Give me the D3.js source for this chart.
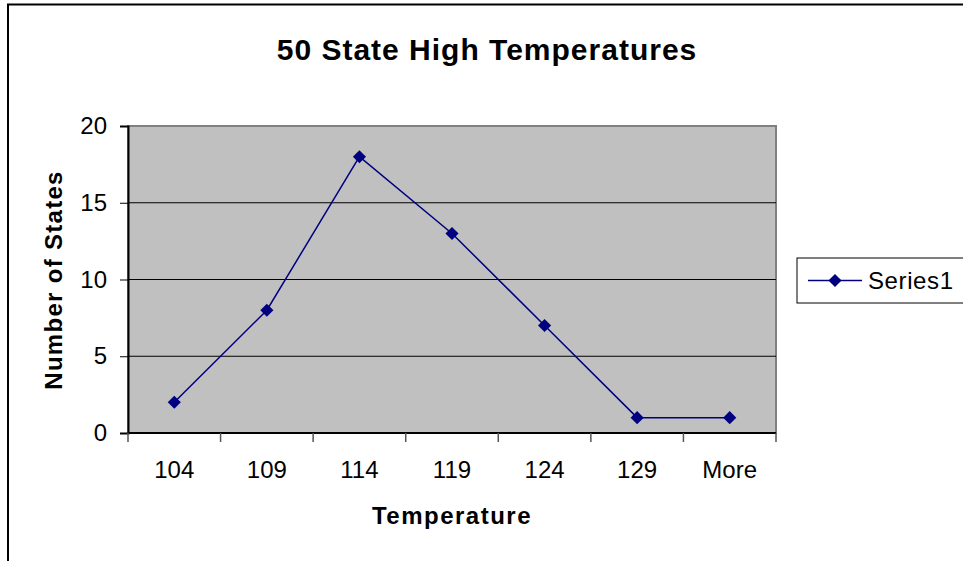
<!DOCTYPE html>
<html>
<head>
<meta charset="utf-8">
<script src="https://cdn.jsdelivr.net/npm/d3@7"></script>
<style>
  body { margin: 0; background: #fff; }
  svg { display: block; font-family: Arial, "Liberation Sans", sans-serif; }
</style>
</head>
<body>
<svg id="chart" width="963" height="561"></svg>
<script>
// chart data
var categories = ['104', '109', '114', '119', '124', '129', 'More'];
var counts = [2, 8, 18, 13, 7, 1, 1];
var yTicks = [0, 5, 10, 15, 20];
var seriesName = 'Series1';

var svg = d3.select('#chart');
var plot = { left: 128, top: 126, right: 776, bottom: 433 };

// outer chart frame (runs off right/bottom edge)
svg.append('rect')
  .attr('x', 8).attr('y', 4.5)
  .attr('width', 1000).attr('height', 1000)
  .attr('fill', '#fff')
  .attr('stroke', '#000')
  .attr('stroke-width', 2);

var x = d3.scaleBand()
  .domain(categories)
  .range([plot.left, plot.right]);

var y = d3.scaleLinear()
  .domain([0, 20])
  .range([plot.bottom, plot.top]);

// plot background
svg.append('rect')
  .attr('x', plot.left).attr('y', plot.top)
  .attr('width', plot.right - plot.left)
  .attr('height', plot.bottom - plot.top)
  .attr('fill', '#c0c0c0')
  .attr('stroke', '#808080')
  .attr('stroke-width', 2);

// gridlines
svg.append('g')
  .selectAll('line')
  .data(yTicks.filter(function(d) { return d > 0 && d < 20; }))
  .join('line')
  .attr('x1', plot.left).attr('x2', plot.right)
  .attr('y1', function(d) { return y(d); })
  .attr('y2', function(d) { return y(d); })
  .attr('stroke', '#000')
  .attr('stroke-width', 1);

// y axis
var yAxis = svg.append('g')
  .attr('transform', 'translate(' + plot.left + ',0)')
  .call(d3.axisLeft(y).tickValues(yTicks).tickSize(8).tickPadding(13));
yAxis.select('.domain').attr('stroke', '#000').attr('stroke-width', 2);
yAxis.selectAll('text').attr('font-size', 24).attr('fill', '#000')
  .attr('font-family', 'Arial, "Liberation Sans", sans-serif');

// x axis: ticks on band boundaries
var boundaries = categories.map(function(c) { return x(c); }).concat([plot.right]);
var xAxis = svg.append('g');
xAxis.append('line')
  .attr('x1', plot.left).attr('x2', plot.right)
  .attr('y1', plot.bottom).attr('y2', plot.bottom)
  .attr('stroke', '#000').attr('stroke-width', 2);
xAxis.selectAll('.tick')
  .data(boundaries)
  .join('line')
  .attr('x1', function(d) { return d; }).attr('x2', function(d) { return d; })
  .attr('y1', plot.bottom).attr('y2', plot.bottom + 9)
  .attr('stroke', '#555').attr('stroke-width', 1.5);
xAxis.selectAll('text')
  .data(categories)
  .join('text')
  .attr('x', function(d) { return x(d) + x.bandwidth() / 2; })
  .attr('y', 478)
  .attr('text-anchor', 'middle')
  .attr('font-size', 24)
  .text(function(d) { return d; });

// series line
var cx = function(d, i) { return x(categories[i]) + x.bandwidth() / 2; };
svg.append('path')
  .datum(counts)
  .attr('d', d3.line().x(cx).y(function(d) { return y(d); }))
  .attr('fill', 'none')
  .attr('stroke', '#000080')
  .attr('stroke-width', 1.5);

var diamond = d3.symbol().type(d3.symbolDiamond2).size(110);
svg.append('g')
  .selectAll('path')
  .data(counts)
  .join('path')
  .attr('d', diamond)
  .attr('transform', function(d, i) { return 'translate(' + cx(d, i) + ',' + y(d) + ')'; })
  .attr('fill', '#000080');

// titles
svg.append('text')
  .attr('x', 487).attr('y', 60)
  .attr('text-anchor', 'middle')
  .attr('font-size', 30).attr('font-weight', 'bold')
  .attr('letter-spacing', 1)
  .text('50 State High Temperatures');

svg.append('text')
  .attr('x', 452).attr('y', 524)
  .attr('text-anchor', 'middle')
  .attr('font-size', 24).attr('font-weight', 'bold')
  .attr('letter-spacing', 1.5)
  .text('Temperature');

svg.append('text')
  .attr('transform', 'translate(62,280) rotate(-90)')
  .attr('text-anchor', 'middle')
  .attr('font-size', 24).attr('font-weight', 'bold')
  .attr('letter-spacing', 1.3)
  .text('Number of States');

// legend
var legend = svg.append('g');
legend.append('rect')
  .attr('x', 797).attr('y', 258)
  .attr('width', 200).attr('height', 45)
  .attr('fill', '#fff')
  .attr('stroke', '#000').attr('stroke-width', 1);
legend.append('line')
  .attr('x1', 808).attr('x2', 862)
  .attr('y1', 280.5).attr('y2', 280.5)
  .attr('stroke', '#000080').attr('stroke-width', 1.5);
legend.append('path')
  .attr('d', diamond)
  .attr('transform', 'translate(835,280.5)')
  .attr('fill', '#000080');
legend.append('text')
  .attr('x', 868).attr('y', 289)
  .attr('font-size', 24)
  .attr('letter-spacing', 0.6)
  .text(seriesName);
</script>
</body>
</html>
